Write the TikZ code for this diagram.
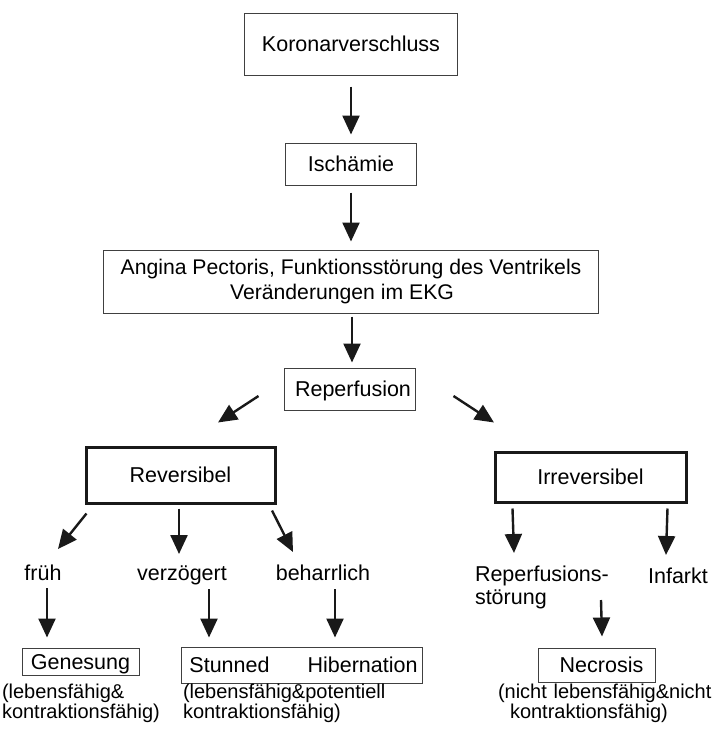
\documentclass[tikz,border=0pt]{standalone}
\usepackage{fontspec}
\setmainfont{Liberation Sans}
\usetikzlibrary{arrows.meta,calc}
\begin{document}
\begin{tikzpicture}[x=1pt,y=-1pt,
  every node/.style={font=\fontsize{21.5}{23}\selectfont, inner sep=0pt},
  oneline/.style={text height=15.5pt, text depth=0pt},
  thinbox/.style={oneline, draw=black!75, line width=1pt},
  thickbox/.style={oneline, draw=black!90, line width=3pt},
  arr/.style={line width=2.4pt, draw=black!90, -{Triangle[length=19pt,width=17pt]}},
  captxt/.style={font=\fontsize{20}{20}\selectfont, align=left},
]
\useasboundingbox (0,0) rectangle (713,729);
\node[thinbox, minimum width=213pt, minimum height=62pt] (kor) at (351,44) {Koronarverschluss};
\node[thinbox, minimum width=131pt, minimum height=42pt] (isch) at (351,164) {Ischämie};
\node[draw=black!75, line width=1pt, minimum width=495pt, minimum height=63pt, align=center, font=\fontsize{21.2}{25}\selectfont] (ang) at (351,281.5) {Angina Pectoris, Funktionsstörung des Ventrikels\\Veränderungen im EKG\kern18pt};
\node[thinbox, minimum width=131pt, minimum height=42pt] (rep) at (350,389) {\kern6pt Reperfusion};
\node[thickbox, minimum width=189pt, minimum height=56pt] (rev) at (180.5,475) {Reversibel};
\node[thickbox, minimum width=191pt, minimum height=50pt] (irr) at (590.5,477) {Irreversibel};
\node[oneline] (frueh) at (43,573) {früh};
\node[oneline] (verz) at (182,573) {verzögert};
\node[oneline] (beh) at (323,573) {beharrlich};
\node[align=left, text width=150pt] (reperf) at (550,587.5) {Reperfusions-\\störung};
\node[oneline] (inf) at (678,576) {Infarkt};
\node[thinbox, minimum width=117pt, minimum height=27pt] (gen) at (80.5,661.5) {Genesung};
\node[thinbox, minimum width=241pt, minimum height=36pt] (stun) at (301.5,665) {\kern4pt Stunned\hspace{38pt}Hibernation};
\node[thinbox, minimum width=117pt, minimum height=34pt] (nec) at (596.5,665) {\kern10pt Necrosis};
\node[captxt, text width=180pt] (gencap) at (92,703) {(lebensfähig\&\\kontraktionsfähig)};
\node[captxt, text width=250pt] (stuncap) at (308,703) {(lebensfähig\&potentiell\\kontraktionsfähig)};
\node[captxt, text width=230pt] (neccap) at (613,703) {(nicht lebensfähig\&nicht\\\hspace*{12pt}kontraktionsfähig)};

\draw[arr] ($(kor.south)+(0,11)$) -- ($(isch.north)+(0,-8)$);
\draw[arr] ($(isch.south)+(0,7)$) -- ($(ang.north)+(0,-8)$);
\draw[arr] ($(ang.south)+(1,3)$) -- ($(rep.north)+(2,-5)$);
\draw[arr] ($(rep.west)+(-25.5,7)$) -- ($(rev.north)+(37.5,-23)$);
\draw[arr] ($(rep.east)+(37.5,7)$) -- ($(irr.north)+(-96.5,-28)$);
\draw[arr] ($(rev.south west)+(2,9)$) -- ($(frueh)+(15,-24)$);
\draw[arr] ($(rev.south)+(-1.5,4)$) -- ($(verz)+(-3,-19)$);
\draw[arr] ($(rev.south east)+(-4.5,6)$) -- ($(beh)+(-30,-21)$);
\draw[arr] ($(irr.south west)+(19,5)$) -- ($(reperf)+(-36,-34.5)$);
\draw[arr] ($(irr.south east)+(-20,5)$) -- ($(inf)+(-12,-21)$);
\draw[arr] ($(frueh)+(4,15)$) -- ($(gen.north)+(-33.5,-10)$);
\draw[arr] ($(verz)+(27,16)$) -- ($(stun.north)+(-92.5,-9)$);
\draw[arr] ($(beh)+(12,16)$) -- ($(stun.north)+(33.5,-9)$);
\draw[arr] ($(reperf)+(51,12.5)$) -- ($(nec.north)+(5.5,-11)$);
\end{tikzpicture}
\end{document}
